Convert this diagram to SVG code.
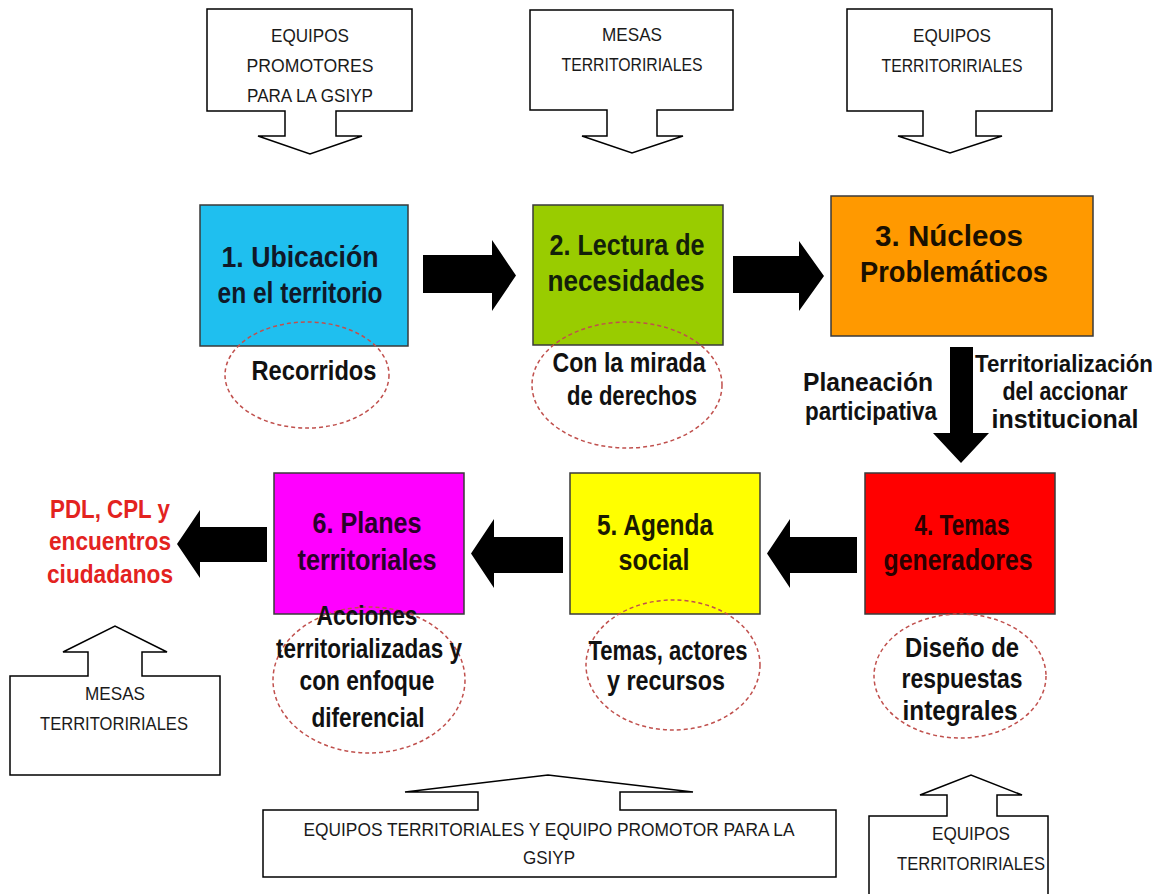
<svg xmlns="http://www.w3.org/2000/svg" width="1165" height="894" viewBox="0 0 1165 894">
<style>
.bg{fill:#fff}
.box{stroke:#3a3a3a;stroke-width:1.5}
.t{font-family:"Liberation Sans",Arial,sans-serif;font-weight:bold;text-anchor:middle;font-size:30px}
.e{font-size:27px;fill:#111}
.s{font-size:26px;fill:#111}
.s24{font-size:24px;fill:#111}
.red{font-size:26px;fill:#E3231F}
.ell{fill:none;stroke:#C0504D;stroke-width:1.5;stroke-dasharray:4 3}
.call{fill:#fff;stroke:#000;stroke-width:1.5}
.ct{font-family:"Liberation Sans",Arial,sans-serif;font-size:17.5px;fill:#1a1a1a;text-anchor:middle}
.arr{fill:#000}
</style>
<rect class="bg" x="0" y="0" width="1165" height="894"/>

<g id="callout-top-1">
<path class="call" d="M207,9 H412 V111 H336 V136 H362 L310,154 L258,136 H285 V111 H207 Z"/>
<text class="ct" x="310" y="42" textLength="78" lengthAdjust="spacingAndGlyphs">EQUIPOS</text>
<text class="ct" x="310" y="72" textLength="127" lengthAdjust="spacingAndGlyphs">PROMOTORES</text>
<text class="ct" x="310" y="102" textLength="126" lengthAdjust="spacingAndGlyphs">PARA LA GSIYP</text>
</g>
<g id="callout-top-2">
<path class="call" d="M530,10 H733 V110 H657 V136 H683 L632,153 L582,136 H607 V110 H530 Z"/>
<text class="ct" x="632" y="41" textLength="60" lengthAdjust="spacingAndGlyphs">MESAS</text>
<text class="ct" x="632" y="71" textLength="141" lengthAdjust="spacingAndGlyphs">TERRITORIRIALES</text>
</g>
<g id="callout-top-3">
<path class="call" d="M847,9 H1052 V111 H976 V136 H1002 L950,153 L898,136 H923 V111 H847 Z"/>
<text class="ct" x="952" y="42" textLength="78" lengthAdjust="spacingAndGlyphs">EQUIPOS</text>
<text class="ct" x="952" y="72" textLength="141" lengthAdjust="spacingAndGlyphs">TERRITORIRIALES</text>
</g>

<g id="connectors">
<path class="arr" d="M423,255 H492 V240 L516,275.5 L492,311 V293 H423 Z"/>
<path class="arr" d="M733,256 H799 V241 L824,276 L799,311 V293 H733 Z"/>
<path class="arr" d="M950,347 H973 V433 H989 L961,463 L933,433 H950 Z"/>
<path class="arr" d="M857,537 H790 V519 L767,553.5 L790,588 V573 H857 Z"/>
<path class="arr" d="M563,537 H494 V519 L471,553.5 L494,588 V573 H563 Z"/>
<path class="arr" d="M267,527 H200 V510 L177,544 L200,578 V562 H267 Z"/>
</g>

<g id="node-1">
<rect class="box" x="200" y="205" width="208" height="141" fill="#1FBFEF"/>
<text class="t" x="300" y="267" fill="#101828" textLength="157" lengthAdjust="spacingAndGlyphs">1. Ubicación</text>
<text class="t" x="300" y="303" fill="#101828" textLength="165" lengthAdjust="spacingAndGlyphs">en el territorio</text>
<ellipse class="ell" cx="307" cy="375" rx="82" ry="53"/>
<text class="t e" x="314" y="380" textLength="125" lengthAdjust="spacingAndGlyphs">Recorridos</text>
</g>

<g id="node-2">
<rect class="box" x="533" y="205" width="190" height="140" fill="#99CC00"/>
<text class="t" x="627" y="255" fill="#13200a" textLength="155" lengthAdjust="spacingAndGlyphs">2. Lectura de</text>
<text class="t" x="626" y="291" fill="#13200a" textLength="157" lengthAdjust="spacingAndGlyphs">necesidades</text>
<ellipse class="ell" cx="627" cy="385" rx="95" ry="63"/>
<text class="t e" x="629" y="372" textLength="153" lengthAdjust="spacingAndGlyphs">Con la mirada</text>
<text class="t e" x="632" y="405" textLength="130" lengthAdjust="spacingAndGlyphs">de derechos</text>
</g>

<g id="node-3">
<rect class="box" x="831" y="196" width="262" height="140" fill="#FF9900"/>
<text class="t" x="949" y="246" fill="#1a1000" textLength="148" lengthAdjust="spacingAndGlyphs">3. Núcleos</text>
<text class="t" x="954" y="282" fill="#1a1000" textLength="188" lengthAdjust="spacingAndGlyphs">Problemáticos</text>
</g>

<g id="label-down">
<text class="t s" x="868" y="391" textLength="130" lengthAdjust="spacingAndGlyphs">Planeación</text>
<text class="t s" x="871" y="420" textLength="132" lengthAdjust="spacingAndGlyphs">participativa</text>
<text class="t s24" x="1064" y="372" textLength="178" lengthAdjust="spacingAndGlyphs">Territorialización</text>
<text class="t s" x="1065" y="400" textLength="125" lengthAdjust="spacingAndGlyphs">del accionar</text>
<text class="t s" x="1065" y="428" textLength="147" lengthAdjust="spacingAndGlyphs">institucional</text>
</g>

<g id="node-4">
<rect class="box" x="865" y="473" width="190" height="141" fill="#FF0000"/>
<text class="t" x="962" y="535" fill="#2a0000" textLength="95" lengthAdjust="spacingAndGlyphs">4. Temas</text>
<text class="t" x="958" y="570" fill="#2a0000" textLength="149" lengthAdjust="spacingAndGlyphs">generadores</text>
<ellipse class="ell" cx="960" cy="676" rx="86" ry="62"/>
<text class="t e" x="962" y="657" textLength="114" lengthAdjust="spacingAndGlyphs">Diseño de</text>
<text class="t e" x="962" y="688" textLength="121" lengthAdjust="spacingAndGlyphs">respuestas</text>
<text class="t e" x="960" y="720" textLength="115" lengthAdjust="spacingAndGlyphs">integrales</text>
</g>

<g id="node-5">
<rect class="box" x="570" y="473" width="190" height="141" fill="#FFFF00"/>
<text class="t" x="655" y="535" fill="#1a1a00" textLength="116" lengthAdjust="spacingAndGlyphs">5. Agenda</text>
<text class="t" x="654" y="570" fill="#1a1a00" textLength="71" lengthAdjust="spacingAndGlyphs">social</text>
<ellipse class="ell" cx="673" cy="665" rx="87" ry="65"/>
<text class="t e" x="668" y="660" textLength="159" lengthAdjust="spacingAndGlyphs">Temas, actores</text>
<text class="t e" x="666" y="690" textLength="118" lengthAdjust="spacingAndGlyphs">y recursos</text>
</g>

<g id="node-6">
<rect class="box" x="274" y="473" width="190" height="141" fill="#FF00FF"/>
<text class="t" x="367" y="533" fill="#2a002a" textLength="109" lengthAdjust="spacingAndGlyphs">6. Planes</text>
<text class="t" x="367" y="570" fill="#2a002a" textLength="139" lengthAdjust="spacingAndGlyphs">territoriales</text>
<ellipse class="ell" cx="369" cy="680" rx="96" ry="73"/>
<text class="t e" x="367" y="625" textLength="101" lengthAdjust="spacingAndGlyphs">Acciones</text>
<text class="t e" x="369" y="658" textLength="186" lengthAdjust="spacingAndGlyphs">territorializadas y</text>
<text class="t e" x="367" y="690" textLength="135" lengthAdjust="spacingAndGlyphs">con enfoque</text>
<text class="t e" x="368" y="727" textLength="113" lengthAdjust="spacingAndGlyphs">diferencial</text>
</g>

<g id="node-pdl">
<text class="t red" x="110" y="518" textLength="120" lengthAdjust="spacingAndGlyphs">PDL, CPL y</text>
<text class="t red" x="110" y="550" textLength="122" lengthAdjust="spacingAndGlyphs">encuentros</text>
<text class="t red" x="110" y="583" textLength="126" lengthAdjust="spacingAndGlyphs">ciudadanos</text>
</g>

<g id="callout-bottom-left">
<path class="call" d="M10,676 H88 V652 H63 L115,626 L167,652 H142 V676 H220 V775 H10 Z"/>
<text class="ct" x="115" y="700" textLength="60" lengthAdjust="spacingAndGlyphs">MESAS</text>
<text class="ct" x="114" y="730" textLength="148" lengthAdjust="spacingAndGlyphs">TERRITORIRIALES</text>
</g>

<g id="callout-bottom-center">
<path class="call" d="M263,810 H478 V792 H405 L548,775 L693,792 H620 V810 H836 V877 H263 Z"/>
<text class="ct" x="549" y="836" textLength="491" lengthAdjust="spacingAndGlyphs">EQUIPOS TERRITORIALES Y EQUIPO PROMOTOR PARA LA</text>
<text class="ct" x="549" y="864" textLength="52" lengthAdjust="spacingAndGlyphs">GSIYP</text>
</g>

<g id="callout-bottom-right">
<path class="call" d="M869,816 H947 V795 H920 L971,775 L1022,795 H997 V816 H1048 V900 H869 Z"/>
<text class="ct" x="971" y="840" textLength="78" lengthAdjust="spacingAndGlyphs">EQUIPOS</text>
<text class="ct" x="971" y="870" textLength="148" lengthAdjust="spacingAndGlyphs">TERRITORIRIALES</text>
</g>
</svg>
